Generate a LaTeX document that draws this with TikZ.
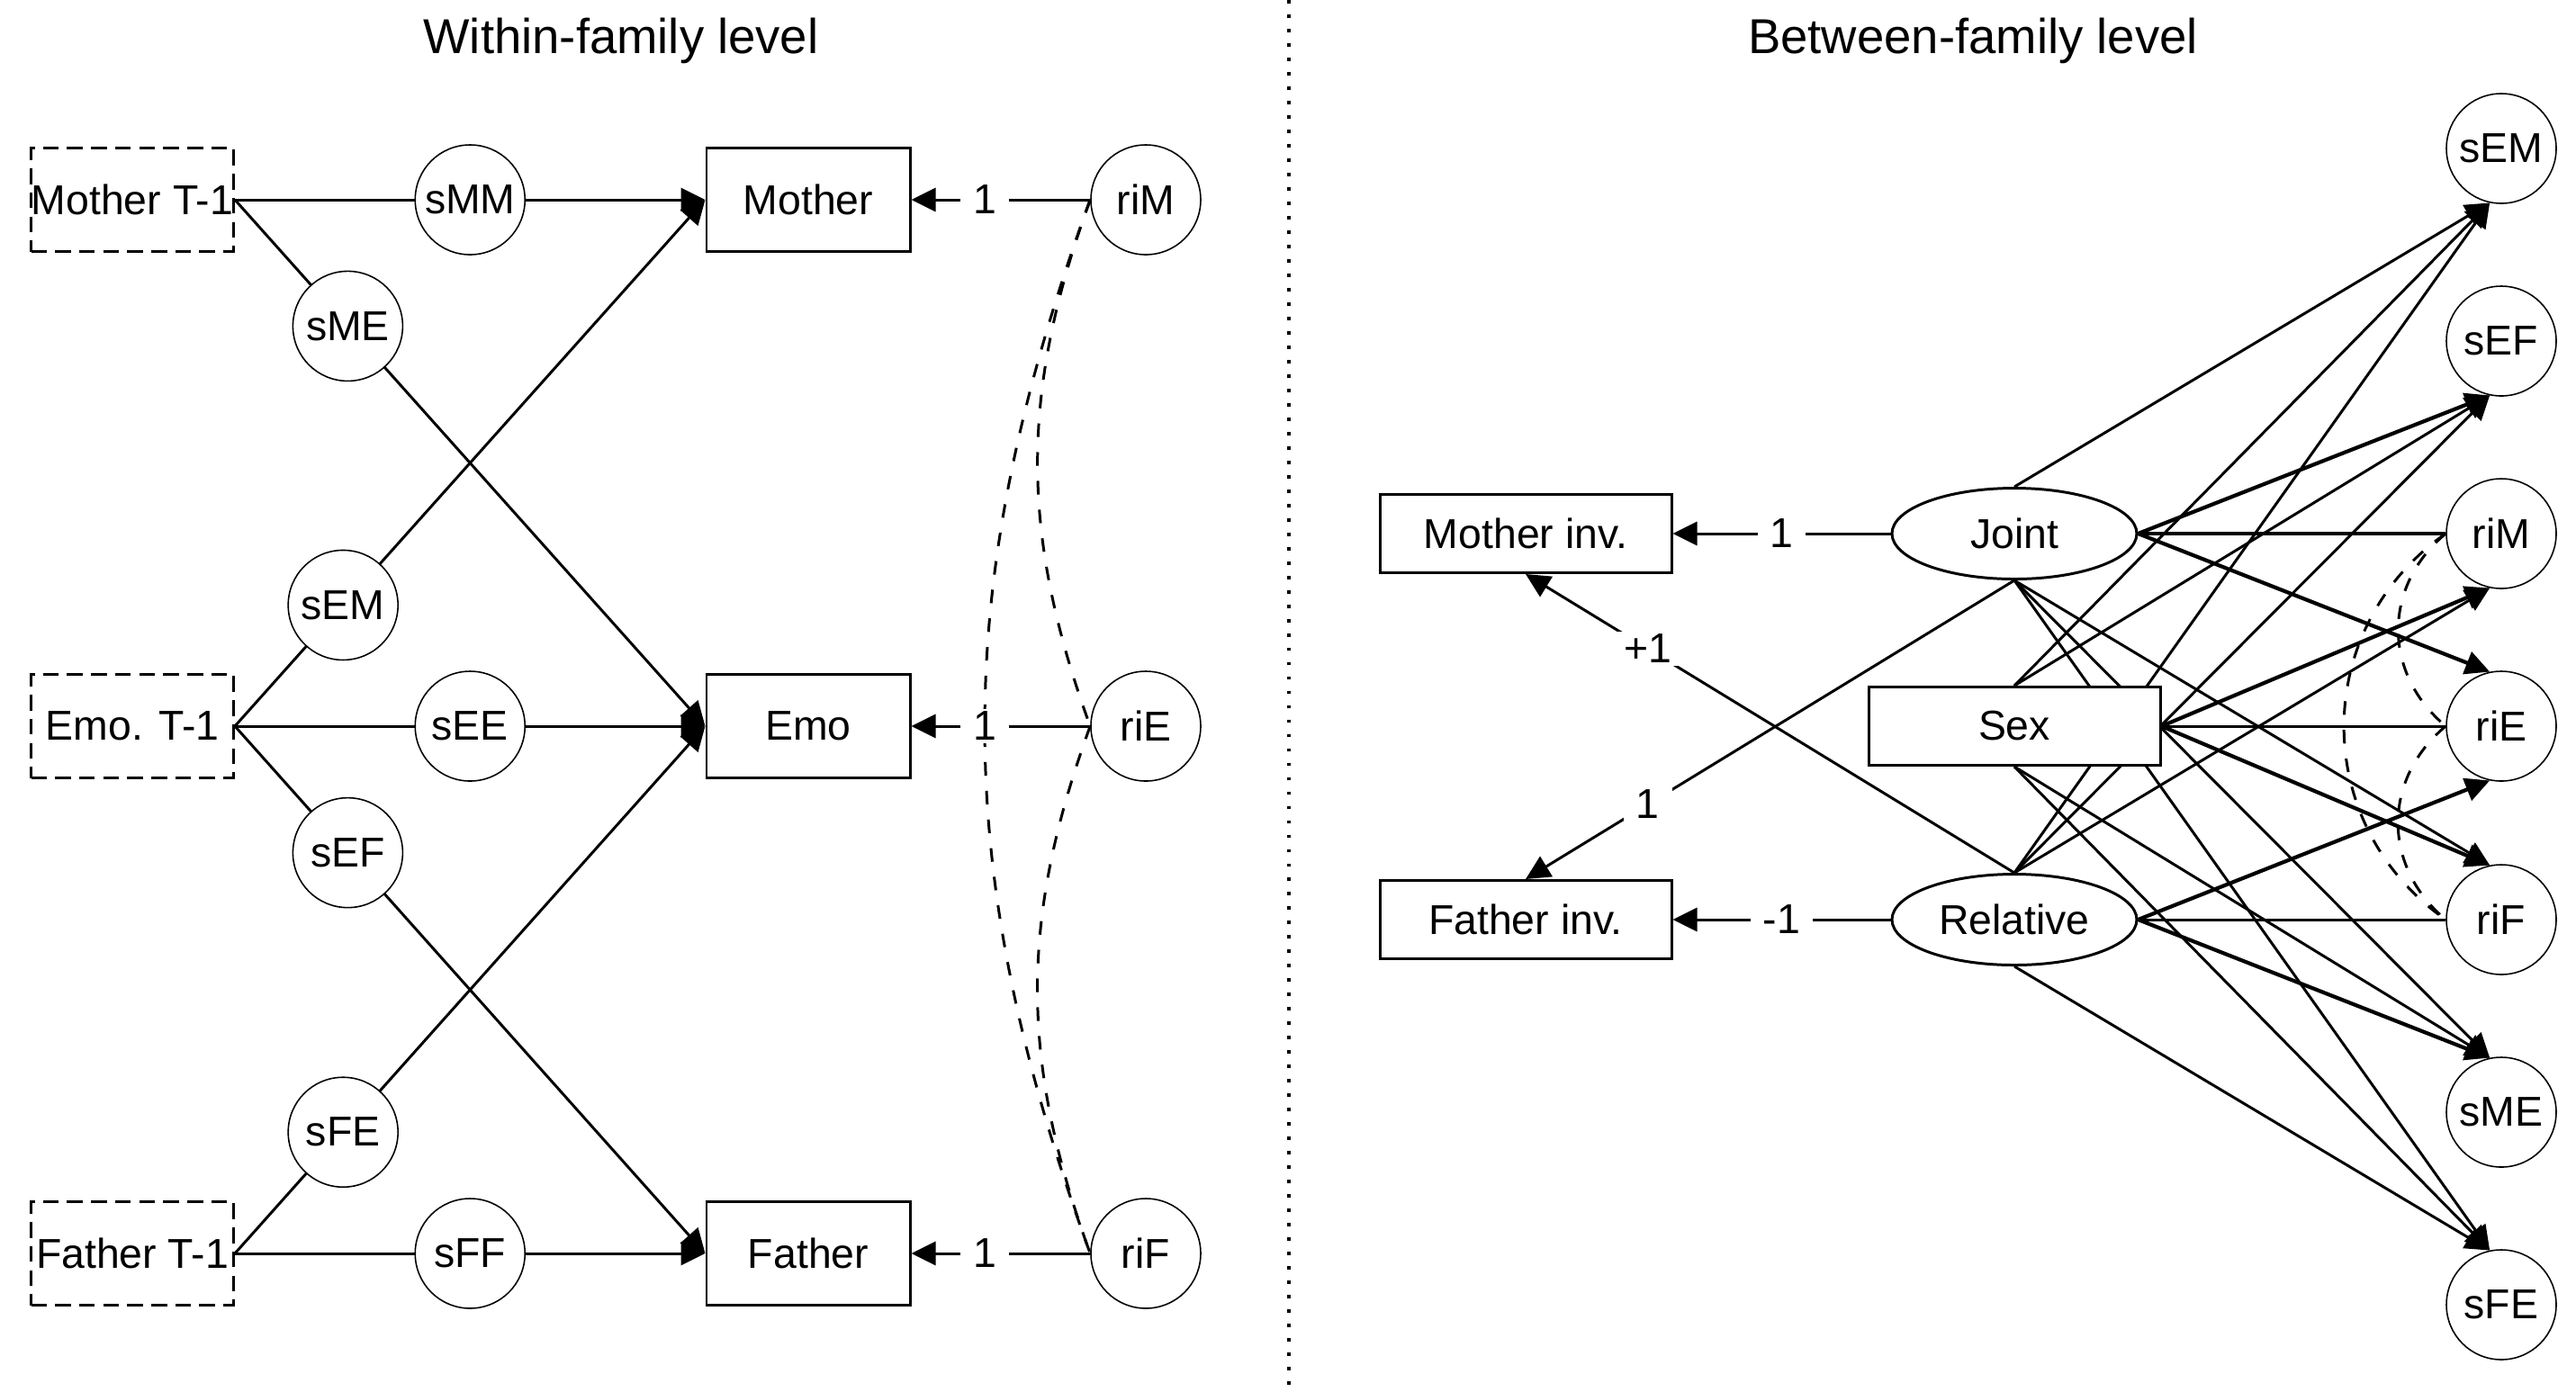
\documentclass[tikz,border=0pt]{standalone}
\usepackage{fontspec}
\setmainfont{Liberation Sans}
\usepackage{tikz}
\usetikzlibrary{arrows.meta, shapes.geometric, backgrounds}
\tikzstyle{dashbox}=[rectangle, draw, line width=0.85pt, dash pattern=on 5pt off 2.6pt, minimum width=2.25cm, minimum height=1.15cm, inner xsep=0pt, fill=white]
\tikzstyle{obsbox}=[rectangle, draw, line width=0.85pt, minimum width=2.26cm, minimum height=1.15cm, fill=white]
\tikzstyle{widebox}=[rectangle, draw, line width=0.85pt, minimum width=3.24cm, minimum height=0.87cm, fill=white]
\tikzstyle{oval}=[ellipse, draw, line width=0.85pt, minimum width=2.72cm, minimum height=1.01cm, inner sep=0pt, fill=white]
\tikzstyle{circ}=[circle, draw, line width=0.45pt, minimum size=1.22cm, inner sep=0pt, fill=white]
\tikzstyle{num}=[fill=white, inner xsep=4pt, inner ysep=1pt]
\tikzstyle{heading}=[font=\fontsize{15.5}{18}\selectfont]
\tikzstyle{arrow}=[line width=0.85pt, >={Triangle[length=0.27cm, width=0.26cm]}]
\tikzstyle{heavy}=[line width=1.2pt]
\tikzstyle{cov}=[line width=0.85pt, dash pattern=on 4.3pt off 4.8pt]
\tikzstyle{divider}=[draw=black, line width=1.1pt, dash pattern=on 1.1pt off 3.45pt]

\begin{document}
\begin{tikzpicture}[font=\fontsize{13.2}{16}\selectfont]
	\useasboundingbox (0, 0) rectangle (28.62, -15.46);
	\begin{scope}
		\node (wt) at (6.90, -0.45)[heading] {Within-family level};
		\node (bt) at (21.92, -0.45)[heading] {Between-family level};
		\coordinate (dtop) at (14.32, 0);
		\coordinate (dbot) at (14.32, -15.46);
		\node (mt) at (1.47, -2.22)[dashbox] {Mother T-1};
		\node (et) at (1.47, -8.07)[dashbox] {Emo. T-1};
		\node (ft) at (1.47, -13.93)[dashbox] {Father T-1};
		\node (mo) at (8.98, -2.22)[obsbox] {Mother};
		\node (em) at (8.98, -8.07)[obsbox] {Emo};
		\node (fa) at (8.98, -13.93)[obsbox] {Father};
		\node (rim) at (12.73, -2.22)[circ] {riM};
		\node (rie) at (12.73, -8.07)[circ] {riE};
		\node (rif) at (12.73, -13.93)[circ] {riF};
	\end{scope}
	\begin{scope}
		\node (mi) at (16.95, -5.93)[widebox] {Mother inv.};
		\node (fi) at (16.95, -10.22)[widebox] {Father inv.};
		\node (jo) at (22.38, -5.93)[oval] {Joint};
		\node (sx) at (22.38, -8.07)[widebox] {Sex};
		\node (re) at (22.38, -10.22)[oval] {Relative};
		\node (bsem) at (27.79, -1.65)[circ] {sEM};
		\node (bsef) at (27.79, -3.79)[circ] {sEF};
		\node (brim) at (27.79, -5.93)[circ] {riM};
		\node (brie) at (27.79, -8.07)[circ] {riE};
		\node (brif) at (27.79, -10.22)[circ] {riF};
		\node (bsme) at (27.79, -12.36)[circ] {sME};
		\node (bsfe) at (27.79, -14.50)[circ] {sFE};
	\end{scope}
	\begin{scope}[on background layer]
		\path [divider] (dtop) -- (dbot);
		\path [cov] (rim.west) edge[bend right=20] (rie.west);
		\path [cov] (rie.west) edge[bend right=20] (rif.west);
		\path [cov] (rim.west) edge[bend right=20] (rif.west);
		\path [cov] (brim.west) edge[bend right=50, looseness=1.1] (brie.west);
		\path [cov] (brie.west) edge[bend right=50, looseness=1.1] (brif.west);
		\path [cov] (brim.west) edge[bend right=55, looseness=1.1] (brif.west);
	\end{scope}
	\begin{scope}[on background layer]
		\path [arrow, ->] (mt.east) edge node[circ, pos=0.5] (smm) {sMM} (mo.west);
		\path [arrow, ->] (mt.east) edge node[circ, pos=0.24] (sme) {sME} (em.west);
		\path [arrow, ->] (et.east) edge node[circ, pos=0.23] (sem) {sEM} (mo.west);
		\path [arrow, ->] (et.east) edge node[circ, pos=0.5] (see) {sEE} (em.west);
		\path [arrow, ->] (et.east) edge node[circ, pos=0.24] (sef) {sEF} (fa.west);
		\path [arrow, ->] (ft.east) edge node[circ, pos=0.23] (sfe) {sFE} (em.west);
		\path [arrow, ->] (ft.east) edge node[circ, pos=0.5] (sff) {sFF} (fa.west);
		\path [arrow, ->] (rim.west) edge node[num, pos=0.59] (lm) {1} (mo.east);
		\path [arrow, ->] (rie.west) edge node[num, pos=0.59] (le) {1} (em.east);
		\path [arrow, ->] (rif.west) edge node[num, pos=0.59] (lf) {1} (fa.east);
	\end{scope}
	\begin{scope}[on background layer]
		\path [arrow, ->] (jo.west) edge node[num] (lmi) {1} (mi.east);
		\path [arrow, ->] (re.west) edge node[num] (lfi) {-1} (fi.east);
		\path [arrow, ->] (jo.south) edge node[num, pos=0.75] (ljf) {1} (fi.north);
		\path [arrow, ->] (re.north) edge node[num, pos=0.75] (lrm) {+1} (mi.south);
		\path [arrow, ->] (jo.north) edge (bsem.258);
		\path [arrow, heavy, ->] (jo.east) edge (bsef.258) edge (brie.102);
		\path [arrow, heavy, -] (jo.east) edge (brim.west);
		\path [arrow, ->] (jo.south) edge (brif.102) edge (bsme.102) edge (bsfe.102);
		\path [arrow, ->] (sx.north) edge (bsem.258) edge (bsef.258);
		\path [arrow, heavy, ->] (sx.east) edge (brim.258) edge (brif.102);
		\path [arrow, -] (sx.east) edge (brie.west);
		\path [arrow, ->] (sx.south) edge (bsme.102) edge (bsfe.102);
		\path [arrow, ->] (re.north) edge (bsem.258) edge (bsef.258) edge (brim.258);
		\path [arrow, heavy, ->] (re.east) edge (brie.258) edge (bsme.102);
		\path [arrow, -] (re.east) edge (brif.west);
		\path [arrow, ->] (re.south) edge (bsfe.102);
	\end{scope}
\end{tikzpicture}
\end{document}
